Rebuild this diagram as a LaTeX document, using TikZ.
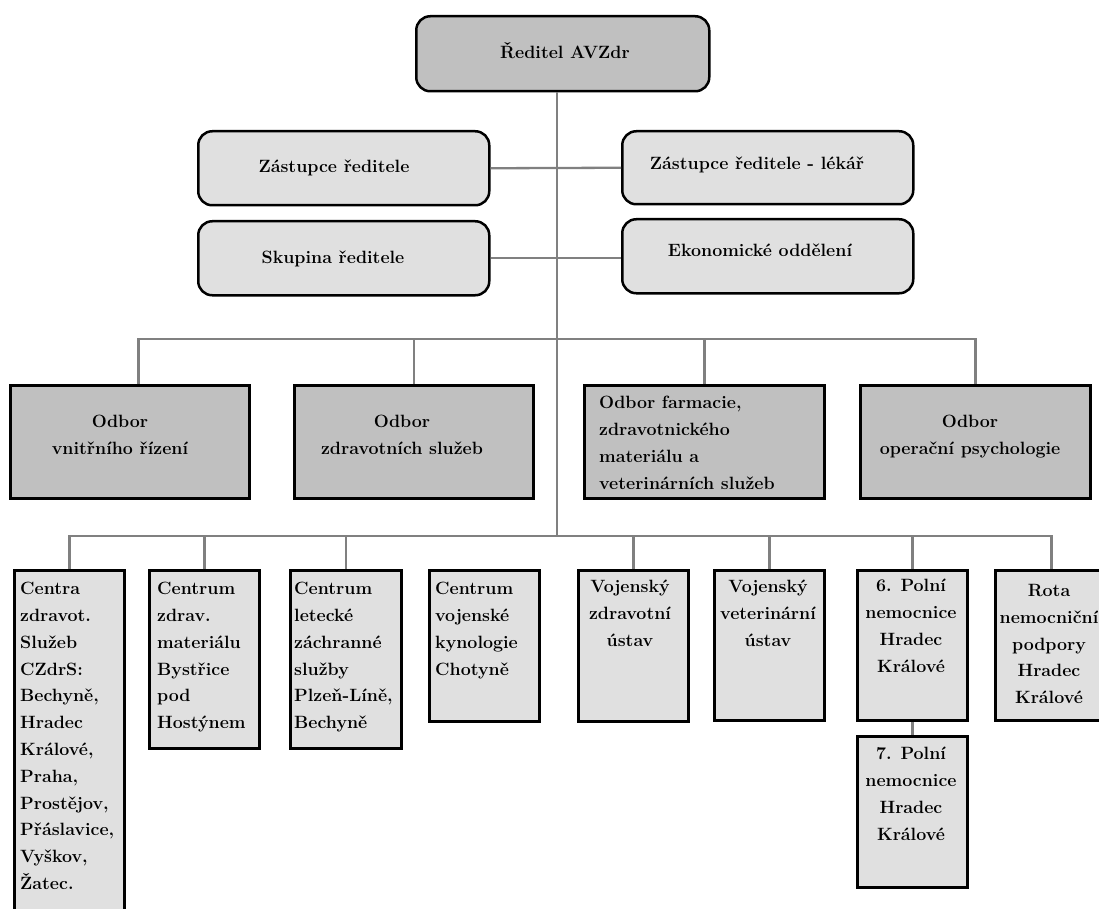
\documentclass[tikz,border=0pt]{standalone}
\usepackage{fontspec}
\definecolor{darkfill}{HTML}{C0C0C0}
\definecolor{lightfill}{HTML}{E0E0E0}
\definecolor{linegray}{HTML}{808080}
\newcommand\bfnt{\fontsize{17.8}{26.8}\selectfont\bfseries}
\tikzset{
  conn/.style={draw=linegray, line width=2.3pt},
  rbox/.style={draw=black, line width=2.5pt, rounded corners=14pt, inner sep=0pt, anchor=north west},
  sbox/.style={draw=black, line width=2.8pt, inner sep=0pt, anchor=north west},
  txt/.style={font=\bfnt, inner sep=0pt},
}
\begin{document}
\begin{tikzpicture}[x=1pt,y=-1pt]
\useasboundingbox (0,0) rectangle (1099,909);
\fill[white] (0,0) rectangle (1099,909);
\clip (0,0) rectangle (1099,909);

% top level
\node[rbox, fill=darkfill, minimum width=293pt, minimum height=75pt] (ceo) at (415,15) {};
\node[txt] (ceot) at (565,51) {Ředitel AVZdr};

% deputies
\node[rbox, fill=lightfill, minimum width=291pt, minimum height=74pt] (zast) at (197,130) {};
\node[rbox, fill=lightfill, minimum width=291pt, minimum height=74pt] (skup) at (197,220) {};
\node[rbox, fill=lightfill, minimum width=291pt, minimum height=73pt] (zastl) at (621,130) {};
\node[rbox, fill=lightfill, minimum width=291pt, minimum height=74pt] (ekon) at (621,218) {};
\node[txt] (zastt) at (334,168) {Zástupce ředitele};
\node[txt] (skupt) at (333,259) {Skupina ředitele};
\node[txt] (zastlt) at (757,165) {Zástupce ředitele - lékář};
\node[txt] (ekont) at (760,250) {Ekonomické oddělení};

% departments
\node[sbox, fill=darkfill, minimum width=239pt, minimum height=113pt] (o1) at (9,384) {};
\node[sbox, fill=darkfill, minimum width=239pt, minimum height=113pt] (o2) at (293,384) {};
\node[sbox, fill=darkfill, minimum width=240pt, minimum height=113pt] (o3) at (583,384) {};
\node[sbox, fill=darkfill, minimum width=230pt, minimum height=113pt] (o4) at (859,384) {};
\node[txt, align=center, anchor=north] (o1t) at (120,415) {Odbor\\vnitřního řízení};
\node[txt, align=center, anchor=north] (o2t) at (402,415) {Odbor\\zdravotních služeb};
\node[txt, align=left, anchor=north west] (o3t) at (599,396) {Odbor farmacie,\\zdravotnického\\materiálu a\\veterinárních služeb};
\node[txt, align=center, anchor=north] (o4t) at (970,415) {Odbor\\operační psychologie};

% units
\node[sbox, fill=lightfill, minimum width=110pt, minimum height=370pt] (c1) at (13,569) {};
\node[sbox, fill=lightfill, minimum width=110pt, minimum height=178pt] (c2) at (148,569) {};
\node[sbox, fill=lightfill, minimum width=111pt, minimum height=178pt] (c3) at (289,569) {};
\node[sbox, fill=lightfill, minimum width=110pt, minimum height=151pt] (c4) at (428,569) {};
\node[sbox, fill=lightfill, minimum width=110pt, minimum height=151pt] (c5) at (577,569) {};
\node[sbox, fill=lightfill, minimum width=110pt, minimum height=150pt] (c6) at (713,569) {};
\node[sbox, fill=lightfill, minimum width=110pt, minimum height=150pt] (c7) at (856,569) {};
\node[sbox, fill=lightfill, minimum width=110pt, minimum height=151pt] (c7b) at (856,735) {};
\node[sbox, fill=lightfill, minimum width=112pt, minimum height=150pt] (c8) at (994,569) {};

\node[txt, align=left, anchor=north west] (c1t) at (20,582) {Centra\\zdravot.\\Služeb\\CZdrS:\\Bechyně,\\Hradec\\Králové,\\Praha,\\Prostějov,\\Přáslavice,\\Vyškov,\\Žatec.};
\node[txt, align=left, anchor=north west] (c2t) at (157,582) {Centrum\\zdrav.\\materiálu\\Bystřice\\pod\\Hostýnem};
\node[txt, align=left, anchor=north west] (c3t) at (294,582) {Centrum\\letecké\\záchranné\\služby\\Plzeň-Líně,\\Bechyně};
\node[txt, align=left, anchor=north west] (c4t) at (435,582) {Centrum\\vojenské\\kynologie\\Chotyně};
\node[txt, align=center, anchor=north] (c5t) at (630,580) {Vojenský\\zdravotní\\ústav};
\node[txt, align=center, anchor=north] (c6t) at (768,580) {Vojenský\\veterinární\\ústav};
\node[txt, align=center, anchor=north] (c7t) at (911,579) {6. Polní\\nemocnice\\Hradec\\Králové};
\node[txt, align=center, anchor=north] (c7bt) at (911,747) {7. Polní\\nemocnice\\Hradec\\Králové};
\node[txt, align=center, anchor=north] (c8t) at (1049,584) {Rota\\nemocniční\\podpory\\Hradec\\Králové};

% connectors
\coordinate (lb) at (557,536);
\coordinate (ub) at (557,339);
\draw[conn] (ceo.south -| lb) -- (lb);
\draw[conn] (zast.east) -- (zastl.west);
\draw[conn] (skup.east) -- (skup.east -| ekon.west);
\draw[conn] ([xshift=8.5pt]o1.north) |- (ub) -| (o4.north);
\draw[conn] (o2.north) -- (o2.north |- ub);
\draw[conn] (o3.north) -- (o3.north |- ub);
\draw[conn] (c1.north) |- (lb) -| (c8.north);
\draw[conn] (c2.north) -- (c2.north |- lb);
\draw[conn] (c3.north) -- (c3.north |- lb);
\draw[conn] (c5.north) -- (c5.north |- lb);
\draw[conn] (c6.north) -- (c6.north |- lb);
\draw[conn] (c7.north) -- (c7.north |- lb);
\draw[conn] (c7.south) -- (c7b.north);
\end{tikzpicture}
\end{document}
